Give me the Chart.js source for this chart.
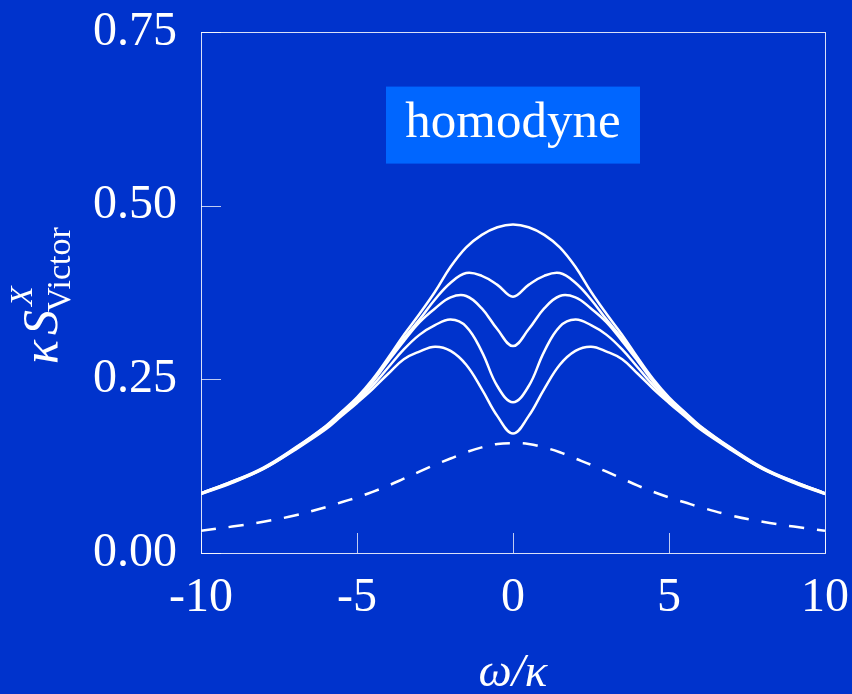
<!DOCTYPE html>
<html>
<head>
<meta charset="utf-8">
<script src="https://cdn.jsdelivr.net/npm/chart.js@4.4.0/dist/chart.umd.min.js"></script>
<style>
  html, body { margin: 0; padding: 0; background: #0033cc; }
  #wrap { width: 852px; height: 694px; position: relative; }
</style>
</head>
<body>
<div id="wrap"><canvas id="c" width="852" height="694"></canvas></div>
<script>
// ---- data ----
const omega = [-10, -9, -8, -7, -6, -5.5, -5, -4.5, -4, -3.5, -3, -2.5, -2, -1.5, -1, -0.5, 0,
               0.5, 1, 1.5, 2, 2.5, 3, 3.5, 4, 4.5, 5, 5.5, 6, 7, 8, 9, 10];

const curve1 = [0.086, 0.103, 0.123, 0.151, 0.183, 0.203, 0.224, 0.250, 0.281, 0.314, 0.344, 0.376, 0.412, 0.440, 0.458, 0.469, 0.473,
                0.469, 0.458, 0.440, 0.412, 0.376, 0.344, 0.314, 0.281, 0.250, 0.224, 0.203, 0.183, 0.151, 0.123, 0.103, 0.086];
const curve2 = [0.086, 0.103, 0.122, 0.150, 0.182, 0.202, 0.222, 0.248, 0.279, 0.309, 0.336, 0.365, 0.389, 0.403, 0.399, 0.386, 0.369,
                0.386, 0.399, 0.403, 0.389, 0.365, 0.336, 0.309, 0.279, 0.248, 0.222, 0.202, 0.182, 0.150, 0.122, 0.103, 0.086];
const curve3 = [0.086, 0.102, 0.122, 0.150, 0.181, 0.201, 0.221, 0.246, 0.276, 0.305, 0.332, 0.352, 0.368, 0.370, 0.352, 0.322, 0.298,
                0.322, 0.352, 0.370, 0.368, 0.352, 0.332, 0.305, 0.276, 0.246, 0.221, 0.201, 0.181, 0.150, 0.122, 0.102, 0.086];
const curve4 = [0.085, 0.102, 0.121, 0.149, 0.180, 0.199, 0.218, 0.241, 0.267, 0.293, 0.314, 0.328, 0.336, 0.326, 0.290, 0.240, 0.217,
                0.240, 0.290, 0.326, 0.336, 0.328, 0.314, 0.293, 0.267, 0.241, 0.218, 0.199, 0.180, 0.149, 0.121, 0.102, 0.085];
const curve5 = [0.085, 0.101, 0.121, 0.148, 0.178, 0.197, 0.216, 0.236, 0.258, 0.279, 0.290, 0.297, 0.291, 0.271, 0.236, 0.197, 0.172,
                0.197, 0.236, 0.271, 0.291, 0.297, 0.290, 0.279, 0.258, 0.236, 0.216, 0.197, 0.178, 0.148, 0.121, 0.101, 0.085];
const dashed = [0.032, 0.038, 0.045, 0.054, 0.066, 0.073, 0.080, 0.088, 0.097, 0.107, 0.117, 0.127, 0.136, 0.145, 0.152, 0.157, 0.158,
                0.157, 0.152, 0.145, 0.136, 0.127, 0.117, 0.107, 0.097, 0.088, 0.080, 0.073, 0.066, 0.054, 0.045, 0.038, 0.032];

const xTickValues = [-10, -5, 0, 5, 10];
const xTickLabels = ['-10', '-5', '0', '5', '10'];
const yTickValues = [0, 0.25, 0.5, 0.75];
const yTickLabels = ['0.00', '0.25', '0.50', '0.75'];
const boxLabel = 'homodyne';
const boxAnchor = { x: 0, y: 0.616 };

// ---- chart ----
const BG = '#0033cc';
const FONT = '"Liberation Serif", "Times New Roman", serif';

const pts = arr => omega.map((x, i) => ({ x: x, y: arr[i] }));
const solid = arr => ({ data: pts(arr), borderColor: '#ffffff', borderWidth: 2.5, pointRadius: 0, tension: 0.4, fill: false });

const decor = {
  id: 'decor',
  beforeDraw(chart) {
    const ctx = chart.ctx;
    ctx.save();
    ctx.fillStyle = BG;
    ctx.fillRect(0, 0, chart.width, chart.height);
    ctx.restore();
  },
  beforeDatasetsDraw(chart) {
    const { ctx, chartArea: a, scales } = chart;
    ctx.save();
    ctx.strokeStyle = 'rgba(255,255,255,0.85)';
    ctx.lineWidth = 1;
    ctx.strokeRect(Math.round(a.left) + 0.5, Math.round(a.top) + 0.5,
                   Math.round(a.right - a.left), Math.round(a.bottom - a.top));
    ctx.strokeStyle = 'rgba(255,255,255,0.75)';
    ctx.beginPath();
    xTickValues.forEach(v => {
      const px = Math.round(scales.x.getPixelForValue(v)) + 0.5;
      ctx.moveTo(px, a.bottom); ctx.lineTo(px, a.bottom - 20);
    });
    yTickValues.forEach(v => {
      const py = Math.round(scales.y.getPixelForValue(v)) + 0.5;
      ctx.moveTo(a.left, py); ctx.lineTo(a.left + 20, py);
    });
    ctx.stroke();

    // annotation box
    const cx = scales.x.getPixelForValue(boxAnchor.x);
    const cy = scales.y.getPixelForValue(boxAnchor.y);
    const w = 254, h = 77;
    ctx.fillStyle = '#0066ff';
    ctx.fillRect(cx - w / 2, cy - h / 2, w, h);
    ctx.fillStyle = '#ffffff';
    ctx.font = '51px ' + FONT;
    ctx.textAlign = 'center';
    ctx.textBaseline = 'alphabetic';
    ctx.fillText(boxLabel, cx, cy + 12);
    ctx.restore();
  },
  afterDraw(chart) {
    // y axis title: kappa S^X_Victor, rotated
    const ctx = chart.ctx;
    ctx.save();
    ctx.translate(57, 364);
    ctx.rotate(-Math.PI / 2);
    ctx.fillStyle = '#ffffff';
    ctx.textBaseline = 'alphabetic';
    ctx.textAlign = 'left';
    ctx.font = 'italic 50px ' + FONT;
    ctx.fillText('κ', 0, 0);
    const kw = ctx.measureText('κ').width;
    const sx = kw + 5;
    ctx.fillText('S', sx, 0);
    const sw = ctx.measureText('S').width;
    ctx.font = 'italic 32px ' + FONT;
    ctx.fillText('X', sx + sw + 4, -25);
    ctx.font = '34px ' + FONT;
    ctx.fillText('Victor', sx + sw - 2, 13);
    ctx.restore();
  }
};

new Chart(document.getElementById('c'), {
  type: 'line',
  data: {
    datasets: [
      solid(curve1), solid(curve2), solid(curve3), solid(curve4), solid(curve5),
      { data: pts(dashed), borderColor: '#ffffff', borderWidth: 2.5, borderDash: [15, 13],
        pointRadius: 0, tension: 0.4, fill: false }
    ]
  },
  options: {
    responsive: false,
    animation: false,
    devicePixelRatio: 1,
    layout: { padding: { top: 32, right: 27, left: 0, bottom: 0 } },
    plugins: { legend: { display: false }, tooltip: { enabled: false } },
    scales: {
      x: {
        type: 'linear', min: -10, max: 10,
        afterBuildTicks: s => { s.ticks = xTickValues.map(v => ({ value: v })); },
        afterFit: s => { s.height = 141; s.paddingLeft = 0; s.paddingRight = 0; },
        grid: { display: false, drawTicks: false },
        border: { display: false },
        ticks: {
          color: '#ffffff', padding: 17, maxRotation: 0,
          font: { family: FONT, size: 48 },
          callback: (v, i) => xTickLabels[i]
        },
        title: {
          display: true, text: 'ω/κ', color: '#ffffff',
          font: { family: FONT, size: 47, style: 'italic', lineHeight: 1 },
          padding: { top: 0, bottom: -3 }
        }
      },
      y: {
        type: 'linear', min: 0, max: 0.75,
        afterBuildTicks: s => { s.ticks = yTickValues.map(v => ({ value: v })); },
        afterFit: s => { s.width = 201; s.paddingTop = 0; s.paddingBottom = 0; },
        grid: { display: false, drawTicks: false },
        border: { display: false },
        ticks: {
          color: '#ffffff', padding: 24,
          font: { family: FONT, size: 48 },
          callback: (v, i) => yTickLabels[i]
        }
      }
    }
  },
  plugins: [decor]
});
</script>
</body>
</html>
